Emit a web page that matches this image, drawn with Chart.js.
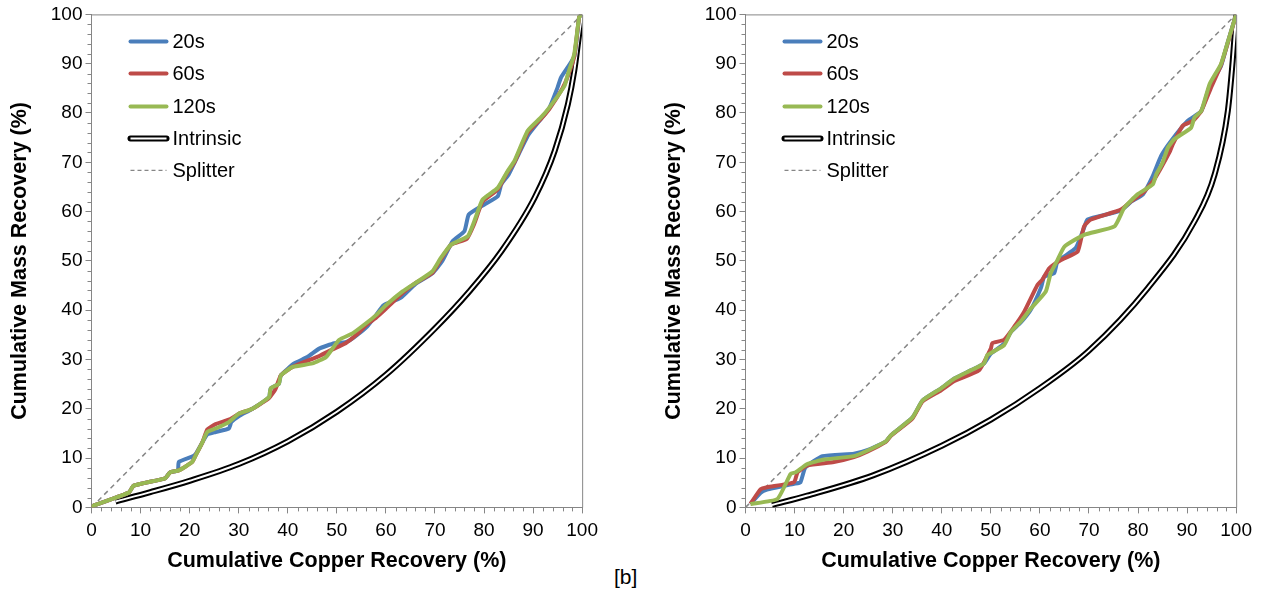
<!DOCTYPE html>
<html>
<head>
<meta charset="utf-8">
<script src="https://cdn.jsdelivr.net/npm/chart.js@4.4.0/dist/chart.umd.min.js"></script>
<style>
  body { margin: 0; background: #fff; }
  #wrap { position: relative; width: 1263px; height: 598px; overflow: hidden; }
  .box { position: absolute; top: 0; width: 604px; height: 598px; }
  #tag { position: absolute; left: 614px; top: 565px; font: 21px "Liberation Sans", Arial, sans-serif; color: #000; }
</style>
</head>
<body>
<div id="wrap">
  <div class="box" style="left:0"><canvas id="chartA"></canvas></div>
  <div class="box" style="left:654px"><canvas id="chartB"></canvas></div>
  <div id="tag">[b]</div>
</div>
<script>
// tick labels for both axes
var tickLabels = [0, 10, 20, 30, 40, 50, 60, 70, 80, 90, 100];
var seriesNames = ['20s', '60s', '120s', 'Intrinsic', 'Splitter'];

// left panel: [copper recovery, mass recovery]
var left20s = [[0,0],[0.5,0.4],[7.6,3],[8.6,4.4],[15,5.9],[16,7.1],[17.6,7.5],[17.8,9.2],[20.5,10.3],[21.2,10.8],[22.6,13.2],[23.6,14.8],[25.3,15.3],[28,16],[28.5,17.3],[30,18.5],[32.8,20],[36.2,22.4],[36.5,24.1],[38.2,25.1],[38.6,26.8],[41.3,29.2],[44,30.5],[46.4,32.2],[49.5,33.3],[51.8,33.5],[53.5,34.5],[56,36.5],[58,39],[59.5,41],[63,42.5],[66,45.3],[69.5,47.5],[71.5,50],[73.6,54],[76,56],[76.9,59.4],[80,61.4],[82.8,63.1],[83.5,65.5],[85,67.5],[86.5,70.5],[89,75.5],[91.6,78.8],[93.3,81],[95,85.2],[95.7,87.2],[98.4,91.5],[99.4,99.5],[100,100]];
var left60s = [[0,0],[0.5,0.4],[7.6,3],[8.6,4.4],[15,5.9],[16,7.1],[17.8,7.5],[20.5,9.2],[21.2,10.5],[22.6,13.2],[23.6,15.8],[25.3,16.9],[28.3,17.9],[30,19],[32.8,20],[36.2,22.2],[37.5,24],[38.6,26.8],[41,28.5],[46.4,30.7],[49,32],[51.8,33.3],[54,35],[56,37],[58,38.5],[60,40.3],[63.4,43.5],[66,45.5],[69.5,47.6],[71.2,50.3],[73.3,53.3],[76.5,54.5],[78,57.5],[79.7,62],[82.8,64.5],[84.8,68],[86.2,70],[88.9,76],[91.6,78.8],[93.3,80.8],[96,85],[97.1,87.5],[98.4,91.5],[99.4,99.5],[100,100]];
var left120s = [[0,0],[0.5,0.4],[7.6,3],[8.6,4.4],[15,5.9],[16,7.1],[17.8,7.5],[20.5,9.2],[21.2,10.5],[22.6,13.2],[23.6,15.3],[25.3,16],[28,17.3],[30,19],[32.8,20],[36.2,22.4],[36.5,24.1],[38.2,25.1],[38.6,26.8],[41,28.5],[45,29.2],[47.8,30.5],[49.1,32.2],[50.5,34],[53.2,35.3],[55.9,37.3],[58,39],[60,41],[63.4,43.8],[66,45.5],[69.5,47.9],[71.2,50.6],[73.3,53.3],[76.7,55],[78,58],[79.7,62.4],[82.8,64.8],[84.8,68.2],[86.2,70.3],[88.9,76.4],[91.6,79.1],[93.3,81.1],[96.4,85.5],[97.1,87.9],[98.4,92],[99.4,99.5],[100,100]];
var leftIntrinsic = [[4.9,1.2],[12,3.1],[20,5.4],[30,8.8],[40,13.4],[50,19.4],[60,26.9],[70,36.3],[77,43.8],[83.5,51.9],[90.3,62.8],[94.4,72.3],[97.1,81.8],[98.4,88.6],[99.4,96],[100,100]];

// right panel
var right20s = [[1,0.7],[3.1,3],[4.4,3.6],[9.9,4.8],[11.2,5.1],[12.2,8.1],[15.7,10.4],[22.1,10.9],[24.8,11.6],[28.6,13.4],[29.6,14.6],[34,18.2],[36.1,21.7],[39.8,24.1],[42.5,26.1],[45.9,27.8],[48.6,29.2],[50,31.2],[52.7,33.2],[54.1,35.6],[56.1,37.5],[58.2,40.2],[60.2,44.5],[60.9,46.8],[62.9,47.5],[63.6,49.9],[67.3,52.6],[69,56.7],[69.7,58.4],[76.5,60.2],[78.6,62],[81,63.5],[83,67.2],[84.7,71.3],[86.7,74.3],[90.1,78.4],[92.9,80.4],[94.6,85.5],[96.9,89.5],[98.3,94.4],[100,100]];
var right60s = [[1,0.7],[3.1,3.7],[4.4,4.1],[9.9,5.1],[10.6,7.1],[12.6,8.5],[18,9.2],[22.1,10.2],[24.8,11.3],[28.6,13.3],[29.6,14.5],[34,18],[36.1,21.5],[39.8,23.7],[42.5,25.6],[47.6,27.8],[50,32.2],[50.3,33.3],[52.7,34],[54.8,36.7],[56.8,39.7],[59.5,45.1],[60.5,46.2],[61.9,48.5],[64.3,50.2],[67.7,51.9],[69,57],[70.4,58.4],[76.5,60.4],[78.6,62.1],[81,63.8],[83.3,66.5],[86.4,72],[87.1,73.7],[89.1,77.4],[91.2,78.4],[92.9,80.4],[94.9,85.2],[96.9,89.7],[98.3,94.2],[100,100]];
var right120s = [[1,0.7],[6.5,1.7],[9.2,6.8],[10.2,7.1],[12.6,8.8],[16,9.7],[22.1,10.4],[24.8,11.5],[28.6,13.4],[29.6,14.6],[34,18.2],[36.1,21.7],[39.8,24.1],[42.5,26.1],[45.9,27.8],[48.6,29.2],[49.3,30.9],[52.7,32.9],[54.1,35.6],[56.1,37.7],[58.2,40.4],[61.2,43.8],[62.2,47.5],[63.6,50.2],[65,52.9],[69,55.3],[75.2,57],[77.2,60.8],[79.9,63.5],[83,65.5],[83.7,67.5],[85,69.9],[86.1,73],[87.4,74.7],[90.8,77],[91.5,79.1],[92.9,80.4],[94.6,85.9],[96.9,89.9],[98.3,94.4],[100,100]];
var rightIntrinsic = [[5.4,0.5],[12.6,2.4],[26,6.5],[40,12.5],[50,17.8],[60,24.2],[70,31.8],[82,44.5],[91.5,58],[95.6,67.5],[98.3,80.4],[99.3,90.6],[99.7,96],[100,100]];

var splitter = [[0,0],[100,100]];

var blue = '#4a7ebb', red = '#be4b48', green = '#98b954', grey = '#868686';
var fontName = '"Liberation Sans", Arial, sans-serif';

function pts(arr) {
  return arr.map(function (p) { return { x: p[0], y: p[1] }; });
}

// minor ticks + top/right frame + legend
var decor = {
  id: 'decor',
  afterDraw: function (chart) {
    var c = chart.ctx, a = chart.chartArea;
    var xs = chart.scales.x, ys = chart.scales.y;
    c.save();
    c.strokeStyle = grey;
    c.lineWidth = 1;
    c.beginPath();
    c.moveTo(a.left, a.top + 0.5);
    c.lineTo(a.right + 0.5, a.top + 0.5);
    c.lineTo(a.right + 0.5, a.bottom);
    for (var v = 0; v <= 100; v += 2) {
      if (v % 10 === 0) continue;
      var px = Math.round(xs.getPixelForValue(v)) + 0.5;
      c.moveTo(px, a.bottom);
      c.lineTo(px, a.bottom + 4);
      var py = Math.round(ys.getPixelForValue(v)) + 0.5;
      c.moveTo(a.left, py);
      c.lineTo(a.left - 4, py);
    }
    c.stroke();

    // legend
    var x0 = a.left + 39, x1 = a.left + 75, tx = a.left + 81;
    var rows = [27, 59, 92, 124, 156];
    c.font = '20px ' + fontName;
    c.textBaseline = 'middle';
    c.fillStyle = '#000';
    rows.forEach(function (r, i) {
      var y = a.top + r;
      c.setLineDash([]);
      c.lineCap = 'round';
      if (i < 3) {
        c.strokeStyle = [blue, red, green][i];
        c.lineWidth = 4;
        c.beginPath(); c.moveTo(x0, y); c.lineTo(x1, y); c.stroke();
      } else if (i === 3) {
        c.strokeStyle = '#000'; c.lineWidth = 6;
        c.beginPath(); c.moveTo(x0, y); c.lineTo(x1, y); c.stroke();
        c.strokeStyle = '#fff'; c.lineWidth = 2; c.lineCap = 'butt';
        c.beginPath(); c.moveTo(x0, y); c.lineTo(x1, y); c.stroke();
      } else {
        c.strokeStyle = grey; c.lineWidth = 1.3; c.lineCap = 'butt';
        c.setLineDash([4, 3]);
        c.beginPath(); c.moveTo(x0, y); c.lineTo(x1, y); c.stroke();
        c.setLineDash([]);
      }
      c.fillText(seriesNames[i], tx, y + 1);
    });
    c.restore();
  }
};

function axis(title, isX) {
  return {
    type: 'linear',
    min: 0,
    max: 100,
    border: { color: grey, width: 1 },
    grid: { drawOnChartArea: false, tickLength: 6, color: grey, tickColor: grey },
    ticks: {
      stepSize: 10,
      color: '#000',
      padding: isX ? 6 : 3,
      maxRotation: 0,
      font: { family: fontName, size: 19 },
      callback: function (v) { return tickLabels.indexOf(v) >= 0 ? String(v) : ''; }
    },
    title: {
      display: true,
      text: title,
      color: '#000',
      font: { family: fontName, size: 21.5, weight: 'bold' },
      padding: isX ? { top: 0, bottom: 2 } : { top: 4, bottom: 15 }
    }
  };
}

function makeChart(id, s20, s60, s120, intr) {
  var ctx = document.getElementById(id).getContext('2d');
  return new Chart(ctx, {
    type: 'line',
    data: {
      datasets: [
        { label: '120s', data: pts(s120), borderColor: green, borderWidth: 4, order: 0, tension: 0.15 },
        { label: '60s', data: pts(s60), borderColor: red, borderWidth: 4, order: 1, tension: 0.15 },
        { label: '20s', data: pts(s20), borderColor: blue, borderWidth: 4, order: 2, tension: 0.15 },
        { label: 'Intrinsic', data: pts(intr), borderColor: '#fff', borderWidth: 2, order: 3, cubicInterpolationMode: 'monotone' },
        { label: 'Intrinsic outline', data: pts(intr), borderColor: '#000', borderWidth: 6, order: 4, cubicInterpolationMode: 'monotone' },
        { label: 'Splitter', data: pts(splitter), borderColor: grey, borderWidth: 1.5, borderDash: [5, 4], order: 5 }
      ]
    },
    options: {
      responsive: true,
      maintainAspectRatio: false,
      animation: false,
      elements: { point: { radius: 0 }, line: { fill: false, borderCapStyle: 'butt', borderJoinStyle: 'round' } },
      layout: { padding: { left: 3, right: 17, top: 14, bottom: 22 } },
      plugins: { legend: { display: false }, tooltip: { enabled: false } },
      scales: {
        x: axis('Cumulative Copper Recovery (%)', true),
        y: axis('Cumulative Mass Recovery (%)', false)
      }
    },
    plugins: [decor]
  });
}

makeChart('chartA', left20s, left60s, left120s, leftIntrinsic);
makeChart('chartB', right20s, right60s, right120s, rightIntrinsic);
</script>
</body>
</html>
